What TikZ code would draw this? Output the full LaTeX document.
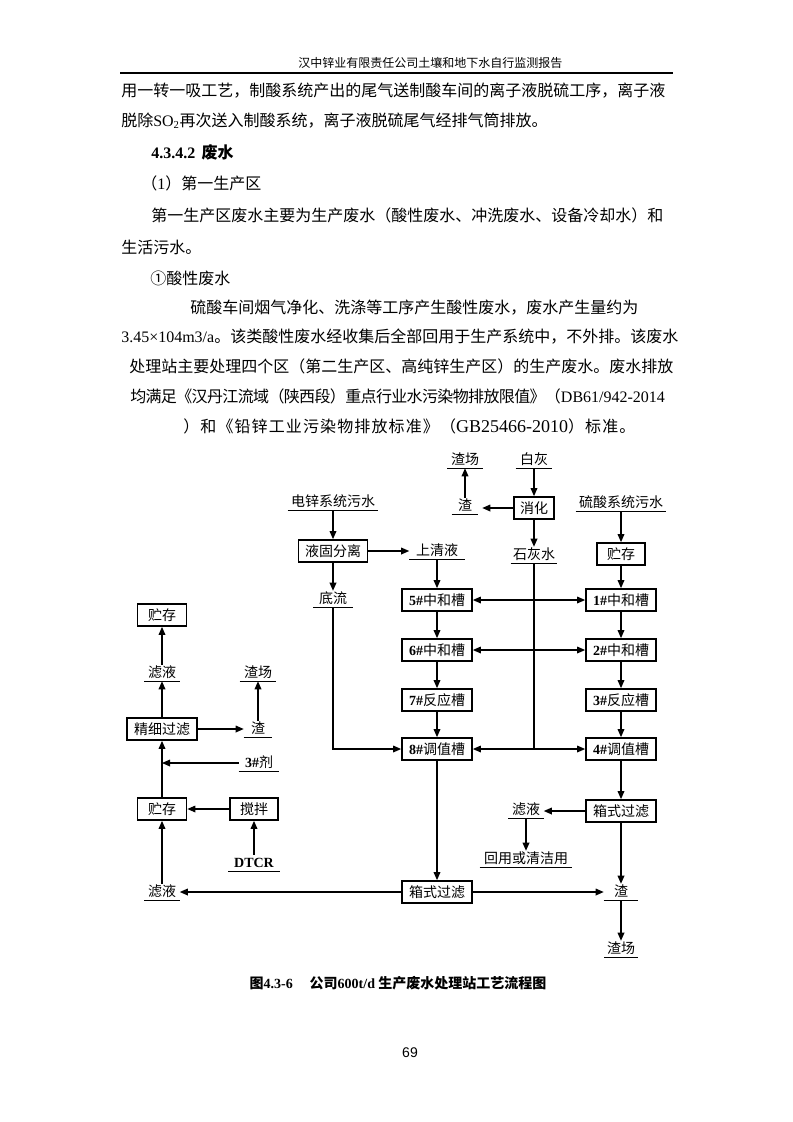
\documentclass[tikz,border=0pt]{standalone}
\usepackage{fontspec}
\setmainfont{Noto Sans CJK SC}
\newfontfamily\lat{Liberation Serif}
\newfontfamily\arialf{Liberation Sans}
\usetikzlibrary{arrows.meta}
\XeTeXlinebreaklocale "zh"
\XeTeXlinebreakskip=0pt plus 3pt minus 1.2pt
\newdimen\px \px=0.75pt
\newcommand{\jl}[2]{\makebox[#1\px][s]{#2}}
\newcommand{\dfs}{\fontsize{10.5}{12}\selectfont}
\tikzset{
  box/.style={draw, line width=1.3pt, minimum width=#1*0.75pt, minimum height=16.5pt, inner sep=0pt, font=\dfs},
  lab/.style={minimum width=#1*0.75pt, inner xsep=0pt, inner ysep=1pt, text height=8.5pt, text depth=1.5pt, font=\dfs},
  ulline/.style={line width=0.8pt},
  arr/.style={line width=0.9pt, -{Triangle[length=6pt,width=5pt]}},
  darr/.style={line width=0.9pt, {Triangle[length=6pt,width=5pt]}-{Triangle[length=6pt,width=5pt]}},
  ln/.style={line width=0.9pt},
  body/.style={anchor=base west, inner sep=0pt, font=\fontsize{12}{14}\selectfont},
}
\begin{document}
\begin{tikzpicture}[x=0.75pt,y=-0.75pt]
\useasboundingbox (0,0) rectangle (793,1122);
\fill[white] (0,0) rectangle (793,1122);
% header
\node[anchor=base west, inner sep=0pt, font=\fontsize{9}{10}\selectfont] (hdr) at (298,67) {汉中锌业有限责任公司土壤和地下水自行监测报告};
\coordinate (rl) at (120,73); \coordinate (rr) at (673,73);
\draw[line width=1.1pt] (rl) -- (rr);
% body text
\node[body] (l1) at (121,96) {\jl{541}{用一转一吸工艺，制酸系统产出的尾气送制酸车间的离子液脱硫工序，离子液}};
\node[body] (l2) at (121,126) {脱除{\lat SO\textsubscript{2}}再次送入制酸系统，离子液脱硫尾气经排气筒排放。};
\node[body] (l3) at (151,158) {\bfseries{\lat 4.3.4.2}\hspace{0.4em}废水};
\node[body] (l4) at (141,189) {（{\lat 1}）第一生产区};
\node[body] (l5) at (151,221) {\jl{510}{第一生产区废水主要为生产废水（酸性废水、冲洗废水、设备冷却水）和}};
\node[body] (l6) at (121,253) {生活污水。};
\node[body] (l7) at (150,284) {①酸性废水};
\node[body] (l8) at (190,313) {\jl{448}{硫酸车间烟气净化、洗涤等工序产生酸性废水，废水产生量约为}};
\node[body] (l9) at (121,342) {\jl{542}{{\lat 3.45×104m3/a}。该类酸性废水经收集后全部回用于生产系统中，不外排。该废水}};
\node[body] (l10) at (129,372) {\jl{532}{处理站主要处理四个区（第二生产区、高纯锌生产区）的生产废水。废水排放}};
\node[body] (l11) at (130,402) {\addfontfeature{LetterSpace=-4}\jl{533}{均满足《汉丹江流域（陕西段）重点行业水污染物排放限值》（{\lat DB61/942-2014}}};
\node[body] (l12) at (183,432) {\addfontfeature{LetterSpace=7}）和《铅锌工业污染物排放标准》（{\lat\fontsize{13.5}{14}\selectfont GB25466-2010}）标准。};

% diagram: top
\node[lab=35] (zc1) at (465,460) {渣场};
\node[lab=36] (bh) at (534,460) {白灰};
\node[box=40] (xh) at (534,508) {消化};
\node[lab=26] (zha1) at (465,506) {渣};
\node[lab=90] (dx) at (333,502) {电锌系统污水};
\node[box=69] (ygf) at (333,551) {液固分离};
\node[lab=55] (sqy) at (437,551) {上清液};
\node[lab=46] (shs) at (534,555) {石灰水};
\node[lab=90] (ls) at (621,503) {硫酸系统污水};
\node[box=48] (zcr) at (621,554) {贮存};
\node[lab=39] (dl) at (333,599) {底流};
% tanks
\node[box=70] (t5) at (437,600) {{\lat\bfseries 5\#}中和槽};
\node[box=70] (t6) at (437,650) {{\lat\bfseries 6\#}中和槽};
\node[box=70] (t7) at (437,700) {{\lat\bfseries 7\#}反应槽};
\node[box=70] (t8) at (437,749) {{\lat\bfseries 8\#}调值槽};
\node[box=70] (t1) at (621,600) {{\lat\bfseries 1\#}中和槽};
\node[box=70] (t2) at (621,650) {{\lat\bfseries 2\#}中和槽};
\node[box=70] (t3) at (621,700) {{\lat\bfseries 3\#}反应槽};
\node[box=70] (t4) at (621,749) {{\lat\bfseries 4\#}调值槽};
% bottom
\node[box=70] (xs1) at (437,892) {箱式过滤};
\node[box=70] (xs2) at (621,811) {箱式过滤};
\node[lab=35] (ly2) at (526,810) {滤液};
\node[lab=92] (hy) at (526,859) {回用或清洁用};
\node[lab=34] (zha3) at (621,892) {渣};
\node[lab=33] (zc3) at (621,949) {渣场};
\node[lab=35] (ly1) at (162,892) {滤液};
% left column
\node[box=49] (zct) at (162,615) {贮存};
\node[lab=35] (ly0) at (162,673) {滤液};
\node[box=70] (jx) at (162,729) {精细过滤};
\node[lab=28] (zha2) at (258,729) {渣};
\node[lab=36] (zc2) at (258,673) {渣场};
\node[lab=40] (j3) at (259,763) {{\lat\bfseries 3\#}剂};
\node[box=49] (zcl) at (162,809) {贮存};
\node[box=48] (jb) at (254,809) {搅拌};
\node[lab=51] (dtcr) at (254,863) {\lat\bfseries DTCR};

% underlines
\foreach \n in {zc1,bh,zha1,dx,sqy,shs,ls,dl,ly2,hy,zha3,zc3,ly1,ly0,zha2,zc2,j3,dtcr}
  \draw[ulline] (\n.south west) -- (\n.south east);

% connectors
\draw[arr] (zha1.north) -- (zc1.south);
\draw[arr] (bh.south) -- (xh.north);
\draw[arr, shorten >=3pt] (xh.west) -- (xh.west -| zha1.east);
\draw[arr] (xh.south) -- (shs.north);
\draw[arr] (dx.south) -- (ygf.north);
\draw[arr] (ygf.east) -- (sqy.west);
\draw[arr] (ygf.south) -- (dl.north);
\draw[arr] (sqy.south) -- (t5.north);
\draw[arr] (ls.south) -- (zcr.north);
\draw[arr] (zcr.south) -- (t1.north);
\draw[darr] (t5.east) -- (t1.west);
\draw[darr] (t6.east) -- (t2.west);
\draw[darr] (t8.east) -- (t4.west);
\coordinate (jn) at (shs.south |- t8.east);
\draw[ln] (shs.south) -- (jn);
\draw[arr] (dl.south) |- (t8.west);
\draw[arr] (t5.south) -- (t6.north);
\draw[arr] (t6.south) -- (t7.north);
\draw[arr] (t7.south) -- (t8.north);
\draw[arr] (t1.south) -- (t2.north);
\draw[arr] (t2.south) -- (t3.north);
\draw[arr] (t3.south) -- (t4.north);
\draw[arr] (t8.south) -- (xs1.north);
\draw[arr] (t4.south) -- (xs2.north);
\draw[arr] (xs2.west) -- (xs2.west -| ly2.east);
\draw[arr] (ly2.south) -- (hy.north);
\draw[arr] (xs2.south) -- (zha3.north);
\draw[arr] (xs1.east) -- (xs1.east -| zha3.west);
\draw[arr] (zha3.south) -- (zc3.north);
\draw[arr] (xs1.west) -- (xs1.west -| ly1.east);
\draw[arr] (ly1.north) -- (zcl.south);
\draw[arr] (zcl.north) -- (jx.south);
\draw[arr] (j3.west) -- (j3.west -| jx.south);
\draw[arr] (jb.west) -- (zcl.east);
\draw[arr] (dtcr.north) -- (jb.south);
\draw[arr] (jx.north) -- (ly0.south);
\draw[arr] (ly0.north) -- (zct.south);
\draw[arr] (jx.east) -- (jx.east -| zha2.west);
\draw[arr] (zha2.north) -- (zc2.south);

% caption and page number
\node[font=\dfs\bfseries, inner sep=0pt] (cap) at (398,983) {图{\lat 4.3-6}\hspace{1.2em}公司{\lat 600t/d} 生产废水处理站工艺流程图};
\node[font=\arialf\fontsize{10.5}{12}\selectfont, inner sep=0pt] (pg) at (410,1053) {69};
\end{tikzpicture}
\end{document}
